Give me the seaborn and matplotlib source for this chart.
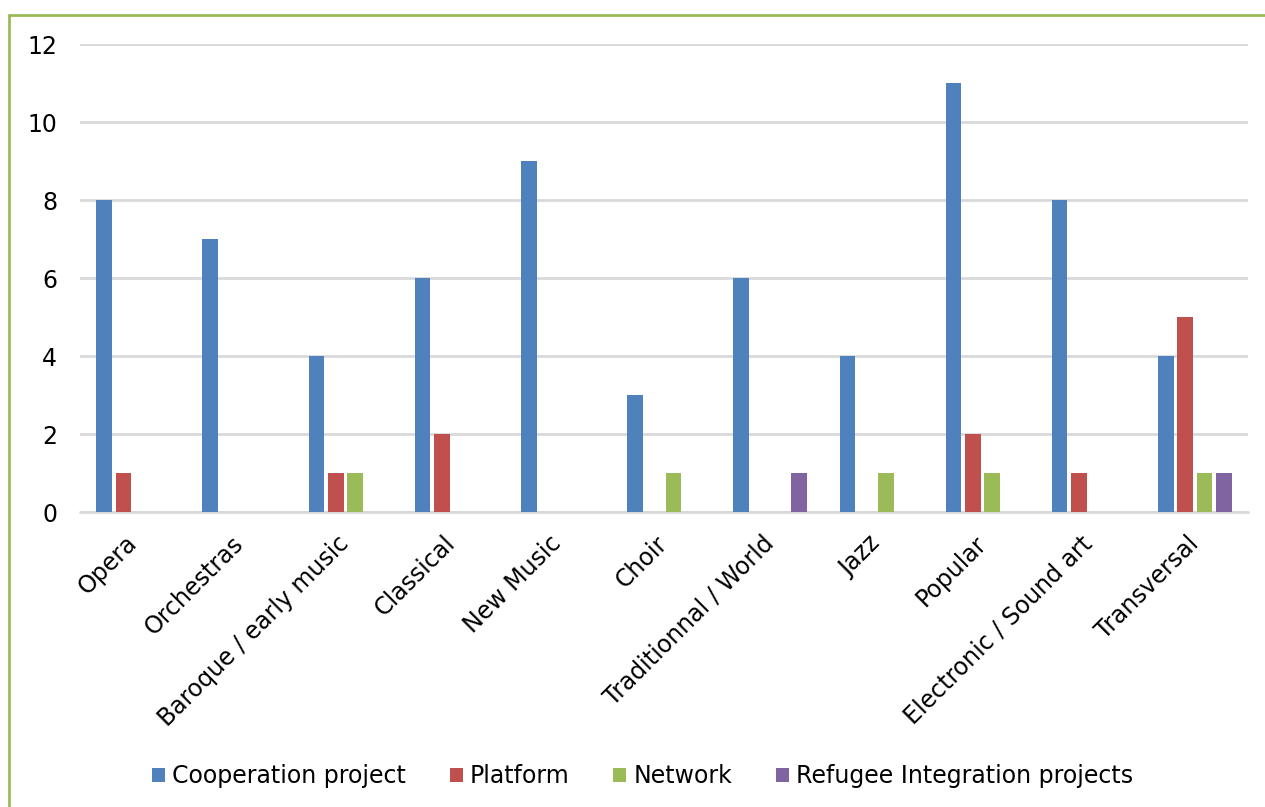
import matplotlib
matplotlib.use("Agg")
import matplotlib.pyplot as plt
from matplotlib.lines import Line2D
from matplotlib.patches import Patch
import seaborn as sns
import pandas as pd

categories = ["Opera", "Orchestras", "Baroque / early music", "Classical", "New Music",
              "Choir", "Traditionnal / World", "Jazz", "Popular",
              "Electronic / Sound art", "Transversal"]
series = ["Cooperation project", "Platform", "Network", "Refugee Integration projects"]
cooperation = [8, 7, 4, 6, 9, 3, 6, 4, 11, 8, 4]
platform = [1, 0, 1, 2, 0, 0, 0, 0, 2, 1, 5]
network = [0, 0, 1, 0, 0, 1, 0, 1, 1, 0, 1]
refugee = [0, 0, 0, 0, 0, 0, 1, 0, 0, 0, 1]
colors = ["#4F81BD", "#C0504D", "#9BBB59", "#8064A2"]
y_ticks = [0, 2, 4, 6, 8, 10, 12]

rows = []
for name, vals in zip(series, [cooperation, platform, network, refugee]):
    for cat, v in zip(categories, vals):
        rows.append({"category": cat, "series": name, "value": v})
df = pd.DataFrame(rows)

sns.set_theme(style="white")
plt.rcParams["font.family"] = ["DejaVu Sans"]
plt.rcParams["text.color"] = "#000000"

W, H = 1265, 807
fig = plt.figure(figsize=(W / 100, H / 100), dpi=100)
ax = fig.add_axes([80 / W, 1 - 512 / H, (1248 - 80) / W, (512 - 44) / H])

sns.barplot(data=df, x="category", y="value", hue="series", order=categories,
            hue_order=series, palette=colors, width=0.73, gap=0.2,
            linewidth=0, saturation=1, ax=ax, legend=False, zorder=3)

ax.set_xlim(-0.5, len(categories) - 0.5)
ax.set_ylim(0, 12)
ax.set_yticks(y_ticks)
ax.set_yticklabels([str(t) for t in y_ticks], fontsize=17, color="#000000")
ax.yaxis.grid(True, color="#D9D9D9", linewidth=2, zorder=0)
ax.set_axisbelow(True)
for s in ax.spines.values():
    s.set_visible(False)
ax.axhline(0, color="#D9D9D9", linewidth=2, zorder=1, clip_on=False)
ax.tick_params(axis="y", length=0, pad=16.5)
ax.tick_params(axis="x", length=0, pad=20)
ax.set_xticks(range(len(categories)))
ax.set_xticklabels(categories, rotation=45, ha="right", va="center",
                   rotation_mode="anchor", fontsize=17, color="#000000")
ax.set_xlabel("")
ax.set_ylabel("")

handles = [Patch(facecolor=c, edgecolor="none") for c in colors]
leg = fig.legend(handles, series, loc="center left",
                 bbox_to_anchor=(152 / W, 1 - 776 / H),
                 ncol=4, frameon=False, fontsize=17, handlelength=0.55, handleheight=0.55,
                 handletextpad=0.3, columnspacing=1.85, borderpad=0, borderaxespad=0)
for t in leg.get_texts():
    t.set_color("#000000")

# frame lines on the left and top edges
fig.add_artist(Line2D([8.5 / W, 8.5 / W], [0, 1 - 15 / H], color="#9BBB59",
                      linewidth=2, transform=fig.transFigure))
fig.add_artist(Line2D([8.5 / W, 1], [1 - 15 / H, 1 - 15 / H], color="#9BBB59",
                      linewidth=2, transform=fig.transFigure))

fig.savefig("out.png", dpi=100, facecolor="white")
